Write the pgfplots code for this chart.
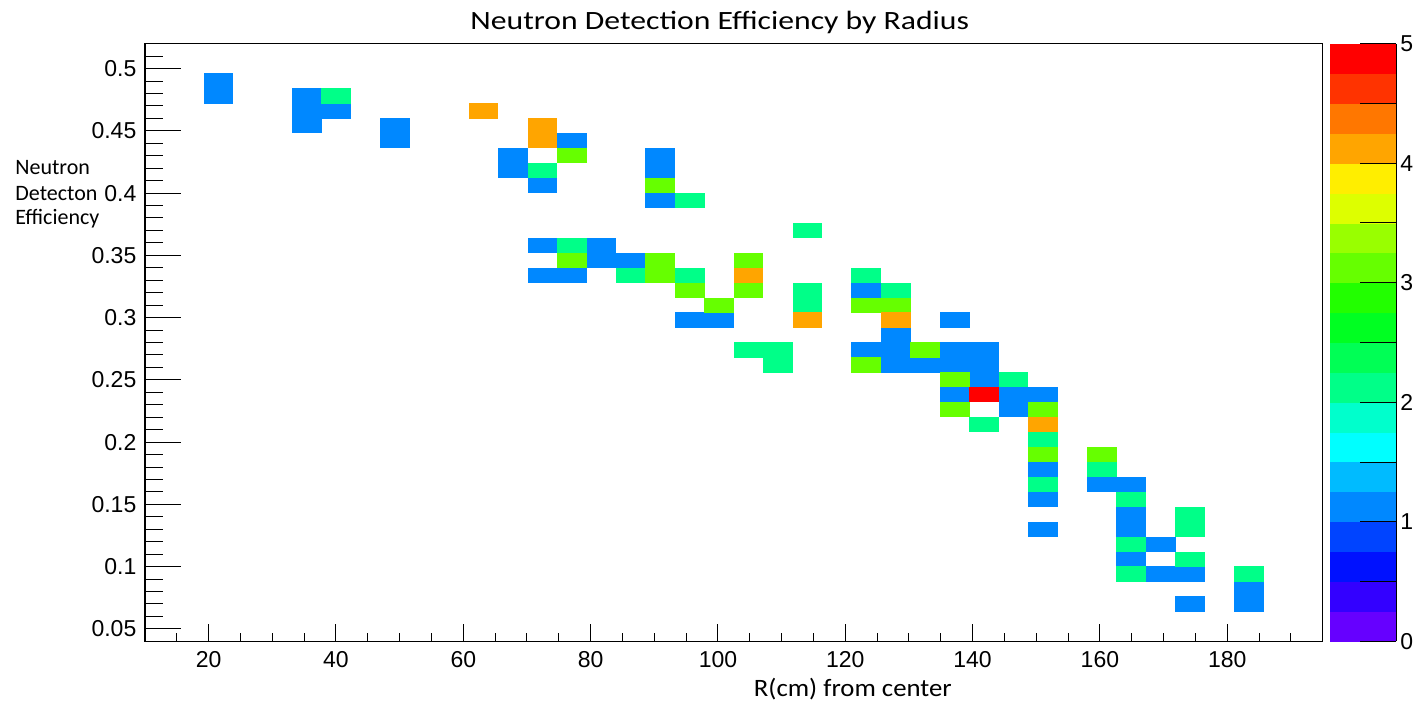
\documentclass[border=0pt]{standalone}
\usepackage{fontspec}
\setmainfont{Carlito}
\newfontfamily\helv{Liberation Sans}
\newfontfamily\titlefont[FakeStretch=1.2]{Carlito}
\newfontfamily\labelfont[FakeStretch=1.07]{Carlito}
\usepackage{pgfplots}
\usepackage{pgfplotstable}
\pgfplotsset{compat=1.18}

% bin counts: bin centre (R, efficiency) and number of entries
\pgfplotstableread{
x y n
21.56 0.478 1
21.56 0.490 1
35.44 0.454 1
35.44 0.466 1
35.44 0.478 1
40.06 0.466 1
49.31 0.442 1
49.31 0.454 1
67.81 0.418 1
67.81 0.430 1
72.44 0.406 1
77.06 0.442 1
90.94 0.418 1
90.94 0.430 1
90.94 0.394 1
72.44 0.358 1
81.69 0.358 1
81.69 0.346 1
86.31 0.346 1
72.44 0.334 1
77.06 0.334 1
95.56 0.298 1
100.19 0.298 1
123.31 0.322 1
137.19 0.298 1
127.94 0.286 1
123.31 0.274 1
127.94 0.274 1
137.19 0.274 1
141.81 0.274 1
127.94 0.262 1
132.56 0.262 1
137.19 0.262 1
141.81 0.262 1
141.81 0.250 1
137.19 0.238 1
146.44 0.238 1
151.06 0.238 1
146.44 0.226 1
151.06 0.178 1
151.06 0.154 1
151.06 0.130 1
160.31 0.166 1
164.94 0.166 1
164.94 0.142 1
164.94 0.130 1
169.56 0.118 1
164.94 0.106 1
169.56 0.094 1
174.19 0.094 1
174.19 0.070 1
183.44 0.070 1
183.44 0.082 1
40.06 0.478 2
72.44 0.418 2
95.56 0.394 2
77.06 0.358 2
86.31 0.334 2
95.56 0.334 2
114.06 0.370 2
114.06 0.310 2
114.06 0.322 2
104.81 0.274 2
109.44 0.274 2
109.44 0.262 2
123.31 0.334 2
127.94 0.322 2
146.44 0.250 2
141.81 0.214 2
151.06 0.202 2
151.06 0.166 2
160.31 0.178 2
164.94 0.154 2
164.94 0.118 2
174.19 0.106 2
164.94 0.094 2
174.19 0.130 2
174.19 0.142 2
183.44 0.094 2
77.06 0.430 3
90.94 0.406 3
77.06 0.346 3
90.94 0.334 3
90.94 0.346 3
95.56 0.322 3
104.81 0.346 3
104.81 0.322 3
100.19 0.310 3
123.31 0.310 3
127.94 0.310 3
132.56 0.274 3
123.31 0.262 3
137.19 0.250 3
137.19 0.226 3
151.06 0.226 3
151.06 0.190 3
160.31 0.190 3
63.19 0.466 4
72.44 0.442 4
72.44 0.454 4
104.81 0.334 4
114.06 0.298 4
127.94 0.298 4
151.06 0.214 4
141.81 0.238 5
}\bins

\definecolor{nOne}{RGB}{0,136,255}
\definecolor{nTwo}{RGB}{0,255,136}
\definecolor{nThree}{RGB}{102,255,0}
\definecolor{nFour}{RGB}{255,165,0}
\definecolor{nFive}{RGB}{255,0,0}

% one histogram bin: 185/40 wide, 0.48/40 high
\pgfdeclareplotmark{bin}{%
  \pgfpathrectangle{\pgfpoint{-7.44pt}{-3.81pt}}{\pgfpoint{14.88pt}{7.62pt}}%
  \pgfusepathqfill}

\begin{document}
\begin{tikzpicture}
\begin{axis}[
  name=main,
  scale only axis,
  width=588.85pt, height=298.8pt,
  xmin=10, xmax=195, ymin=0.04, ymax=0.52,
  axis line style={black, line width=0.6pt},
  tick align=inside,
  xtick pos=bottom, ytick pos=left,
  xtick={20,40,60,80,100,120,140,160,180},
  xticklabels={20,40,60,80,100,120,140,160,180},
  minor xtick={15,25,30,35,45,50,55,65,70,75,85,90,95,105,110,115,125,130,135,145,150,155,165,170,175,185,190},
  ytick={0.05,0.1,0.15,0.2,0.25,0.3,0.35,0.4,0.45,0.5},
  yticklabels={0.05,0.1,0.15,0.2,0.25,0.3,0.35,0.4,0.45,0.5},
  minor ytick={0.06,0.07,0.08,0.09,0.11,0.12,0.13,0.14,0.16,0.17,0.18,0.19,0.21,0.22,0.23,0.24,0.26,0.27,0.28,0.29,0.31,0.32,0.33,0.34,0.36,0.37,0.38,0.39,0.41,0.42,0.43,0.44,0.46,0.47,0.48,0.49,0.51},
  scaled y ticks=false,
  major tick length=17.8pt, minor tick length=9pt,
  xtick style={/pgfplots/major tick length=8.67pt, /pgfplots/minor tick length=4.33pt},
  tick style={black, line width=0.5pt},
  tick label style={font=\helv\fontsize{11.5}{13}\selectfont},
  xticklabel style={inner sep=0pt, yshift=-4.85pt},
  yticklabel style={inner sep=0pt, xshift=-4.15pt},
  title={Neutron Detection Efficiency by Radius},
  title style={font=\titlefont\fontsize{13.2}{15}\selectfont, at={(axis description cs:0.488,1)}, anchor=base, yshift=0.85pt, inner sep=0pt},
  xlabel={R(cm) from center},
  xlabel style={font=\labelfont\fontsize{12.5}{15}\selectfont, at={(axis description cs:0.601,0)}, anchor=base, yshift=-27.35pt, inner sep=0pt},
  clip=false,
  point meta min=0, point meta max=5,
  colormap={rootpal}{
    rgb255(0pt)=(102,0,255) rgb255(1pt)=(51,0,255) rgb255(2pt)=(0,17,255)
    rgb255(3pt)=(0,68,255) rgb255(4pt)=(0,136,255) rgb255(5pt)=(0,187,255)
    rgb255(6pt)=(0,255,255) rgb255(7pt)=(0,255,204) rgb255(8pt)=(0,255,136)
    rgb255(9pt)=(0,255,85) rgb255(10pt)=(0,255,34) rgb255(11pt)=(34,255,0)
    rgb255(12pt)=(102,255,0) rgb255(13pt)=(153,255,0) rgb255(14pt)=(221,255,0)
    rgb255(15pt)=(255,238,0) rgb255(16pt)=(255,165,0) rgb255(17pt)=(255,119,0)
    rgb255(18pt)=(255,51,0) rgb255(19pt)=(255,0,0) rgb255(20pt)=(255,0,0)
  },
  colormap access=piecewise constant,
  colorbar,
  colorbar style={
    scale only axis,
    at={(parent axis.north east)}, anchor=north west, xshift=-4.886pt,
    width=33pt, height=298.8pt,
    axis on top,
    axis x line=none, axis y line*=right,
    axis line style={black, line width=0.5pt},
    ytick={0,1,2,3,4,5},
    yticklabels={0,1,2,3,4,5},
    minor ytick={0.5,1.5,2.5,3.5,4.5},
    ytick pos=right, yticklabel pos=right,
    tick align=inside,
    major tick length=18pt, minor tick length=18pt,
    tick style={black, line width=0.5pt},
    yticklabel style={font=\helv\fontsize{11.5}{13}\selectfont, inner sep=0pt, xshift=2pt},
  },
]
\addplot[
  scatter, only marks, mark=bin,
  scatter src=explicit symbolic,
  scatter/classes={
    1={mark=bin, fill=nOne, draw=none},
    2={mark=bin, fill=nTwo, draw=none},
    3={mark=bin, fill=nThree, draw=none},
    4={mark=bin, fill=nFour, draw=none},
    5={mark=bin, fill=nFive, draw=none}},
] table[x=x, y=y, meta=n] {\bins};

\node[anchor=base west, inner sep=0pt, font=\fontsize{11}{13}\selectfont,
      xshift=-65pt, yshift=-65.65pt] at (axis description cs:0,1) {Neutron};
\node[anchor=base west, inner sep=0pt, font=\fontsize{11}{13}\selectfont,
      xshift=-65pt, yshift=-78.5pt] at (axis description cs:0,1) {Detecton};
\node[anchor=base west, inner sep=0pt, font=\fontsize{11}{13}\selectfont,
      xshift=-65pt, yshift=-90.65pt] at (axis description cs:0,1) {Efficiency};
\end{axis}
\pgfresetboundingbox
\path[use as bounding box] ([xshift=-72.5pt,yshift=-29.85pt]main.south west)
  rectangle ([xshift=46.65pt,yshift=21.85pt]main.north east);
\end{tikzpicture}
\end{document}
